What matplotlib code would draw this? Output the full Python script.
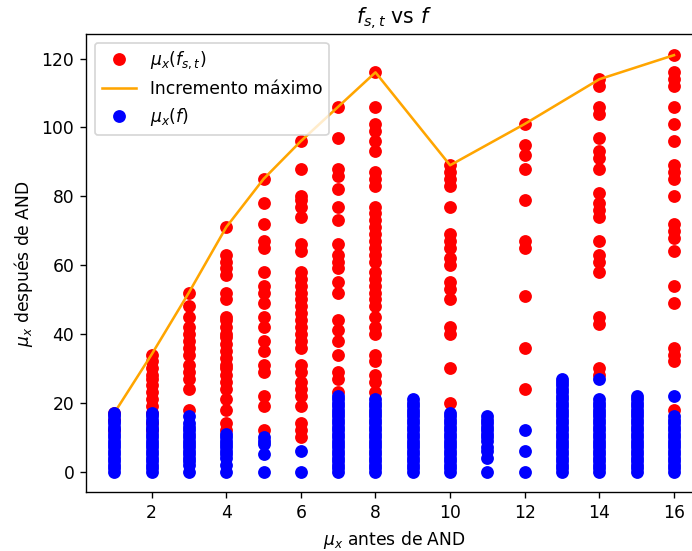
import matplotlib
matplotlib.use('Agg')
import matplotlib.pyplot as plt

# columnas en x (mu_x antes de AND)
x_cols = [1, 2, 3, 4, 5, 6, 7, 8, 9, 10, 11, 12, 13, 14, 15, 16]

# mu_x(f_{s,t}) por columna
red_y = [
    [17, 15, 12],
    [34, 32, 30, 28, 27, 25, 23, 21, 19, 17, 14, 12],
    [52, 48, 45, 42, 40, 38, 36, 34, 31, 29, 27, 24, 18],
    [71, 63, 61, 59, 57, 52, 50, 45, 44, 42, 40, 39, 37, 35, 33, 31, 30, 28, 26, 24, 21, 18, 14, 12],
    [85, 78, 72, 67, 65, 58, 54, 52, 49, 45, 42, 38, 35, 31, 29, 22, 19, 12],
    [96, 88, 80, 79, 77, 74, 66, 64, 58, 56, 54, 52, 50, 48, 46, 44, 42, 40, 38, 36, 31, 29, 26, 24, 22, 19, 14, 12, 10],
    [106, 97, 88, 86, 82, 77, 73, 66, 63, 61, 59, 55, 52, 44, 41, 38, 34, 29, 27, 23],
    [116, 106, 101, 99, 96, 93, 87, 85, 83, 77, 75, 73, 71, 69, 67, 65, 63, 61, 58, 56, 54, 52, 50, 48, 45, 42, 40, 34, 32, 28, 26, 23],
    [],
    [89, 87, 85, 83, 77, 69, 67, 65, 62, 60, 55, 53, 50, 42, 40, 30, 20],
    [],
    [101, 95, 92, 88, 79, 67, 65, 51, 36, 24],
    [],
    [114, 112, 106, 104, 97, 93, 91, 88, 81, 78, 76, 74, 67, 63, 61, 58, 45, 43, 30, 28],
    [],
    [121, 116, 114, 112, 106, 101, 96, 89, 87, 85, 80, 72, 70, 68, 64, 54, 49, 36, 34, 32, 18],
]

# mu_x(f) por columna
blue_y = [
    [0, 1, 2, 3, 4, 5, 6, 7, 8, 9, 10, 11, 12, 13, 14, 15, 16, 17],
    [0, 1, 2, 3, 4, 5, 6, 7, 8, 9, 10, 11, 12, 13, 14, 15, 16, 17],
    [0, 2, 3, 4, 5, 6, 7, 8, 9, 10, 11, 12, 13, 14, 16],
    [0, 2, 4, 5, 6, 7, 8, 9, 10, 11],
    [0, 5, 8, 9, 10],
    [0, 6],
    [0, 1, 2, 3, 4, 5, 6, 7, 8, 9, 10, 11, 12, 13, 14, 15, 16, 17, 18, 19, 20, 21, 22],
    [0, 1, 2, 3, 4, 5, 6, 7, 8, 9, 10, 11, 12, 13, 14, 15, 16, 17, 18, 19, 20, 21],
    [0, 1, 2, 3, 4, 5, 6, 7, 8, 9, 10, 11, 12, 13, 14, 15, 16, 17, 18, 19, 20, 21],
    [0, 1, 2, 3, 4, 5, 6, 7, 8, 9, 10, 11, 12, 13, 14, 15, 16, 17],
    [0, 4, 6, 7, 9, 10, 11, 12, 13, 14, 15, 16],
    [0, 6, 12],
    [0, 1, 2, 3, 4, 5, 6, 7, 8, 9, 10, 11, 12, 13, 14, 15, 16, 17, 18, 19, 20, 21, 22, 23, 24, 25, 26, 27],
    [0, 1, 2, 3, 4, 5, 6, 7, 8, 9, 10, 11, 12, 13, 14, 15, 16, 17, 18, 19, 20, 21, 27],
    [0, 1, 2, 3, 4, 5, 6, 7, 8, 9, 10, 11, 12, 13, 14, 15, 16, 17, 18, 19, 20, 21, 22],
    [0, 1, 2, 3, 4, 5, 6, 7, 8, 9, 10, 11, 12, 13, 14, 15, 16, 22],
]

rx, ry, bx, by = [], [], [], []
for x, ys in zip(x_cols, red_y):
    rx += [x] * len(ys)
    ry += ys
for x, ys in zip(x_cols, blue_y):
    bx += [x] * len(ys)
    by += ys

# incremento maximo: el maximo de cada columna con puntos rojos
mx = [x for x, ys in zip(x_cols, red_y) if ys]
my = [max(ys) for ys in red_y if ys]

dpi = 123
fig = plt.figure(figsize=(692 / dpi, 551 / dpi), dpi=dpi)
ax = fig.add_axes([0.1247, 0.1065, 0.8897, 0.8312])

ax.plot(rx, ry, 'o', color='red', markersize=6.5, label=r'$\mu_x(f_{s,t})$')
ax.plot(mx, my, color='orange', label='Incremento máximo')
ax.plot(bx, by, 'o', color='blue', markersize=6.5, label=r'$\mu_x(f)$')

ax.set_xticks([2, 4, 6, 8, 10, 12, 14, 16])
ax.set_yticks([0, 20, 40, 60, 80, 100, 120])
ax.set_title(r'$f_{s,t}$ vs $f$')
ax.set_xlabel(r'$\mu_x$ antes de AND')
ax.set_ylabel(r'$\mu_x$ después de AND')
ax.legend(loc='upper left')

fig.savefig('out.png', dpi=dpi)
